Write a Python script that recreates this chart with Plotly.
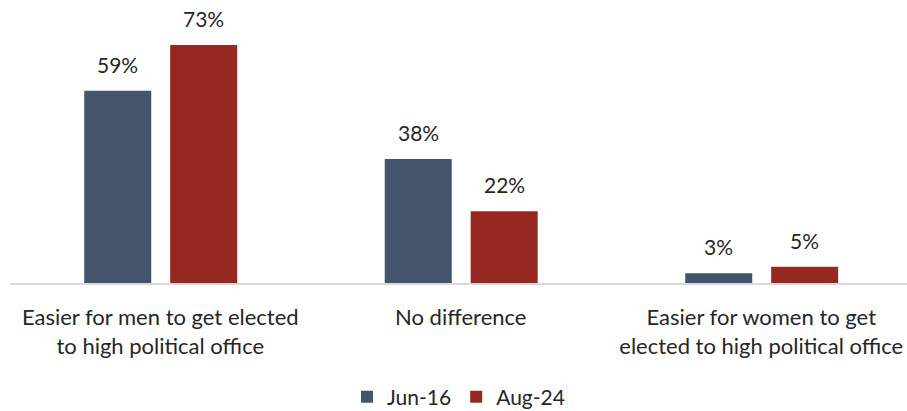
import plotly.graph_objects as go

categories = [
    "Easier for men to get elected<br>to high political office",
    "No difference",
    "Easier for women to get<br>elected to high political office",
]
jun16 = [59, 38, 3]
aug24 = [73, 22, 5]
series_names = ["Jun-16", "Aug-24"]
colors = ["#44546A", "#962821"]
offsets = [-0.253, 0.033]
BAR_W = 0.223

FONT = "Lato, 'Open Sans', sans-serif"
TEXT = "#262626"
SIZE = 21

fig = go.Figure()
for name, vals, col, off in zip(series_names, [jun16, aug24], colors, offsets):
    fig.add_trace(go.Bar(
        x=categories, y=vals, name=name, marker_color=col,
        marker_line_width=0, width=BAR_W, offset=off,
    ))
    # value labels above each bar
    for i, v in enumerate(vals):
        fig.add_annotation(
            x=i + off + BAR_W / 2, y=v, xref="x", yref="y",
            text=f"{v}%", showarrow=False, yanchor="bottom", yshift=12,
            font=dict(family=FONT, size=SIZE, color=TEXT),
        )

fig.update_layout(
    width=907, height=411,
    margin=dict(l=10, r=0, t=0, b=128, autoexpand=False),
    paper_bgcolor="white", plot_bgcolor="white",
    barmode="overlay",
    font=dict(family=FONT, size=SIZE, color=TEXT),
    showlegend=True,
    legend=dict(orientation="h", x=0.5, xanchor="center",
                yref="container", y=0.034, yanchor="middle",
                font=dict(size=SIZE, color=TEXT), itemwidth=30, traceorder="normal"),
)
fig.update_xaxes(
    range=[-0.5, 2.485], showline=True, linecolor="#D9D9D9", linewidth=2,
    ticks="", tickfont=dict(size=22, color=TEXT), showgrid=False,
    ticklabelstandoff=14, automargin=False,
)
fig.update_yaxes(range=[0, 86.8], visible=False, showgrid=False, automargin=False)

fig.write_html("out.html")
